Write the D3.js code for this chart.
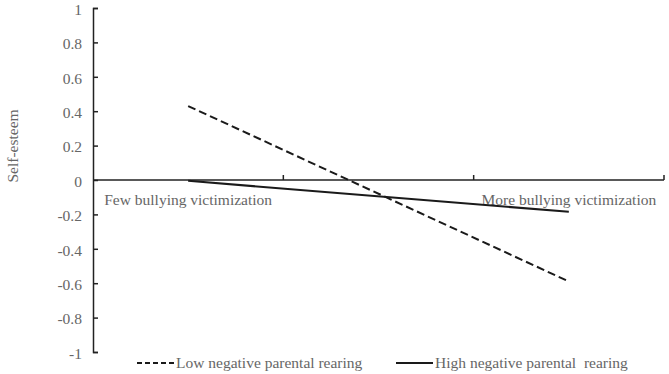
<!DOCTYPE html>
<html><head><meta charset="utf-8">
<script src="https://cdn.jsdelivr.net/npm/d3@7/dist/d3.min.js"></script>
<style>body{margin:0;background:#fff;} svg text{font-family:"Liberation Serif","Times New Roman",serif !important;}</style>
</head><body><svg id="c" width="669" height="374"></svg>
<script>
const categories = ["Few bullying victimization", "", "More bullying victimization"];
const xLabels = ["Few bullying victimization", "More bullying victimization"];
const seriesNames = ["Low negative parental rearing", "High negative parental  rearing"];
const lowValues = [0.43, -0.59];
const highValues = [-0.005, -0.185];
const yTicks = [1, 0.8, 0.6, 0.4, 0.2, 0, -0.2, -0.4, -0.6, -0.8, -1];
const yTitle = "Self-esteem";

const svg = d3.select("#c");
const mLeft = 93, mRight = 664, mTop = 8, mBottom = 352;
const fs = 15.5;
const x = d3.scaleBand().domain(categories).range([mLeft, mRight]);
const y = d3.scaleLinear().domain([-1, 1]).range([mBottom, mTop]);
const textColor = "#666";
const axisColor = "#222";

// Y axis
const yAxis = svg.append("g").attr("transform", `translate(${mLeft},0)`)
  .call(d3.axisLeft(y).tickValues(yTicks).tickSizeInner(-5).tickSizeOuter(-5).tickPadding(11)
    .tickFormat(d => String(+d.toFixed(1))));
yAxis.attr("font-family", "Liberation Serif, serif").attr("font-size", fs);
yAxis.select(".domain").attr("stroke", axisColor).attr("stroke-width", 1.5);
yAxis.selectAll(".tick line").attr("stroke", axisColor).attr("stroke-width", 1.5);
yAxis.selectAll(".tick text").attr("fill", textColor).attr("dy", "0.4em");

// X axis at y=0 with category boundary ticks
const x0 = y(0);
const boundaries = categories.map(c => x(c) + x.bandwidth());
svg.append("line").attr("x1", mLeft).attr("x2", mRight).attr("y1", x0).attr("y2", x0)
  .attr("stroke", axisColor).attr("stroke-width", 1.5);
svg.selectAll(".xt").data(boundaries).enter().append("line")
  .attr("x1", d => d).attr("x2", d => d).attr("y1", x0).attr("y2", x0 - 5)
  .attr("stroke", axisColor).attr("stroke-width", 1.5);
const labelCats = [categories[0], categories[2]];
svg.selectAll(".xl").data(xLabels).enter().append("text")
  .attr("x", (d, i) => x(labelCats[i]) + x.bandwidth() / 2)
  .attr("y", x0 + 25).attr("text-anchor", "middle")
  .attr("fill", textColor).attr("font-size", fs).text(d => d);

// Y title
svg.append("text").attr("transform", `translate(18,146) rotate(-90)`)
  .attr("text-anchor", "middle").attr("fill", textColor).attr("font-size", fs).text(yTitle);

// Lines
const pts = v => v.map((d, i) => [x(labelCats[i]) + x.bandwidth() / 2, y(d)]);
const line = d3.line();
svg.append("path").attr("d", line(pts(lowValues))).attr("fill", "none")
  .attr("stroke", "#1a1a1a").attr("stroke-width", 2).attr("stroke-dasharray", "8,4");
svg.append("path").attr("d", line(pts(highValues))).attr("fill", "none")
  .attr("stroke", "#1a1a1a").attr("stroke-width", 2);

// Legend
const ly = 363;
const leg = [{x1: 137, x2: 174, dash: "5,3", tx: 176}, {x1: 396, x2: 433, dash: null, tx: 435}];
leg.forEach((l, i) => {
  svg.append("line").attr("x1", l.x1).attr("x2", l.x2).attr("y1", ly).attr("y2", ly)
    .attr("stroke", "#1a1a1a").attr("stroke-width", 2).attr("stroke-dasharray", l.dash);
  svg.append("text").attr("x", l.tx).attr("y", ly + 5).attr("fill", textColor)
    .attr("font-size", fs).style("white-space", "pre").text(seriesNames[i]);
});
</script></body></html>
